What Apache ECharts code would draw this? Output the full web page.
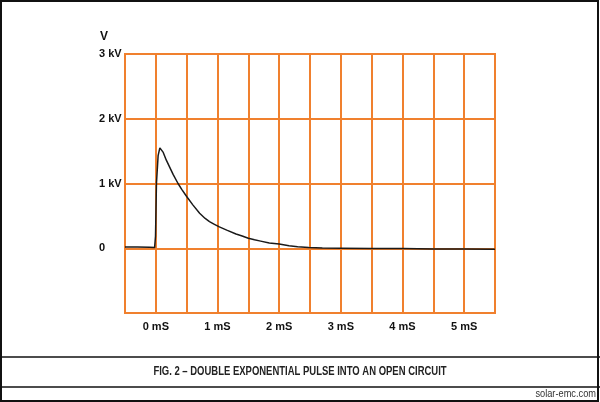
<!DOCTYPE html>
<html>
<head>
<meta charset="utf-8">
<script src="https://cdn.jsdelivr.net/npm/echarts@6/dist/echarts.min.js"></script>
<style>
html,body{margin:0;padding:0;background:#fff;}
#c{width:600px;height:402px;}
</style>
</head>
<body>
<div id="c"></div>
<script>
// time in mS
var times = [-0.5, -0.3, -0.1, -0.02, -0.005, 0.01, 0.037, 0.065, 0.09, 0.12, 0.17, 0.226, 0.28, 0.36, 0.42, 0.5, 0.6, 0.71, 0.8, 0.87, 0.95, 1.03, 1.15, 1.3, 1.4, 1.5, 1.6, 1.7, 1.84, 2.0, 2.16, 2.3, 2.48, 2.7, 3.0, 3.5, 4.0, 4.5, 5.0, 5.5];
// voltage in kV
var volts = [0.02, 0.02, 0.015, 0.01, 0.19, 1.0, 1.43, 1.55, 1.54, 1.48, 1.36, 1.25, 1.14, 1.0, 0.91, 0.8, 0.67, 0.54, 0.46, 0.41, 0.37, 0.33, 0.28, 0.22, 0.19, 0.155, 0.13, 0.11, 0.08, 0.065, 0.04, 0.025, 0.01, 0.003, 0.0, -0.005, -0.005, -0.01, -0.01, -0.015];
var xTickLabels = ['0 mS', '1 mS', '2 mS', '3 mS', '4 mS', '5 mS'];
var yTickLabels = ['0', '1 kV', '2 kV', '3 kV'];
var caption = 'FIG. 2 \u2013 DOUBLE EXPONENTIAL PULSE INTO AN OPEN CIRCUIT';
var site = 'solar-emc.com';

var FONT = '"Liberation Sans", Arial, sans-serif';
var ORANGE = '#F0802E';

var data = times.map(function (t, i) { return [t, volts[i]]; });

var chart = echarts.init(document.getElementById('c'), null, {renderer: 'canvas'});
chart.setOption({
  animation: false,
  backgroundColor: '#fff',
  grid: {left: 125, right: 105, top: 54, bottom: 89, show: true, borderColor: ORANGE, borderWidth: 2, backgroundColor: 'transparent'},
  xAxis: {
    type: 'value', min: -0.5, max: 5.5, interval: 0.5,
    axisLine: {show: false}, axisTick: {show: false},
    splitLine: {show: true, lineStyle: {color: ORANGE, width: 2}},
    axisLabel: {
      margin: 8, color: '#111', fontWeight: 'bold', fontSize: 11, fontFamily: FONT,
      formatter: function (v) {
        var r = Math.round(v);
        if (Math.abs(v - r) < 1e-6 && r >= 0 && r < xTickLabels.length) return xTickLabels[r];
        return '';
      }
    }
  },
  yAxis: {
    type: 'value', min: -1, max: 3, interval: 1,
    axisLine: {show: false}, axisTick: {show: false},
    splitLine: {show: true, lineStyle: {color: ORANGE, width: 2}},
    axisLabel: {
      margin: 26, align: 'left', color: '#111', fontWeight: 'bold', fontSize: 11, fontFamily: FONT,
      formatter: function (v) {
        var r = Math.round(v);
        if (r >= 0 && r < yTickLabels.length) return yTickLabels[r];
        return '';
      }
    }
  },
  series: [{
    type: 'line', data: data, showSymbol: false, symbol: 'none',
    lineStyle: {color: '#1a1a1a', width: 1.5}, z: 5
  }],
  graphic: [
    {type: 'rect', shape: {x: 1, y: 1, width: 597, height: 400}, style: {fill: 'none', stroke: '#111', lineWidth: 2}, silent: true},
    {type: 'line', shape: {x1: 0, y1: 357, x2: 600, y2: 357}, style: {stroke: '#111', lineWidth: 1.5}},
    {type: 'line', shape: {x1: 0, y1: 387, x2: 600, y2: 387}, style: {stroke: '#111', lineWidth: 1.5}},
    {type: 'text', x: 100, y: 37, style: {text: 'V', fill: '#111', font: 'bold 12px ' + FONT, verticalAlign: 'middle'}},
    {type: 'text', x: 300, y: 372, scaleX: 0.79, style: {text: caption, fill: '#222', font: 'bold 12px ' + FONT, align: 'center', verticalAlign: 'middle'}},
    {type: 'text', x: 596, y: 394, scaleX: 0.84, style: {text: site, fill: '#333', font: '11px ' + FONT, align: 'right', verticalAlign: 'middle'}}
  ]
});
</script>
</body>
</html>
